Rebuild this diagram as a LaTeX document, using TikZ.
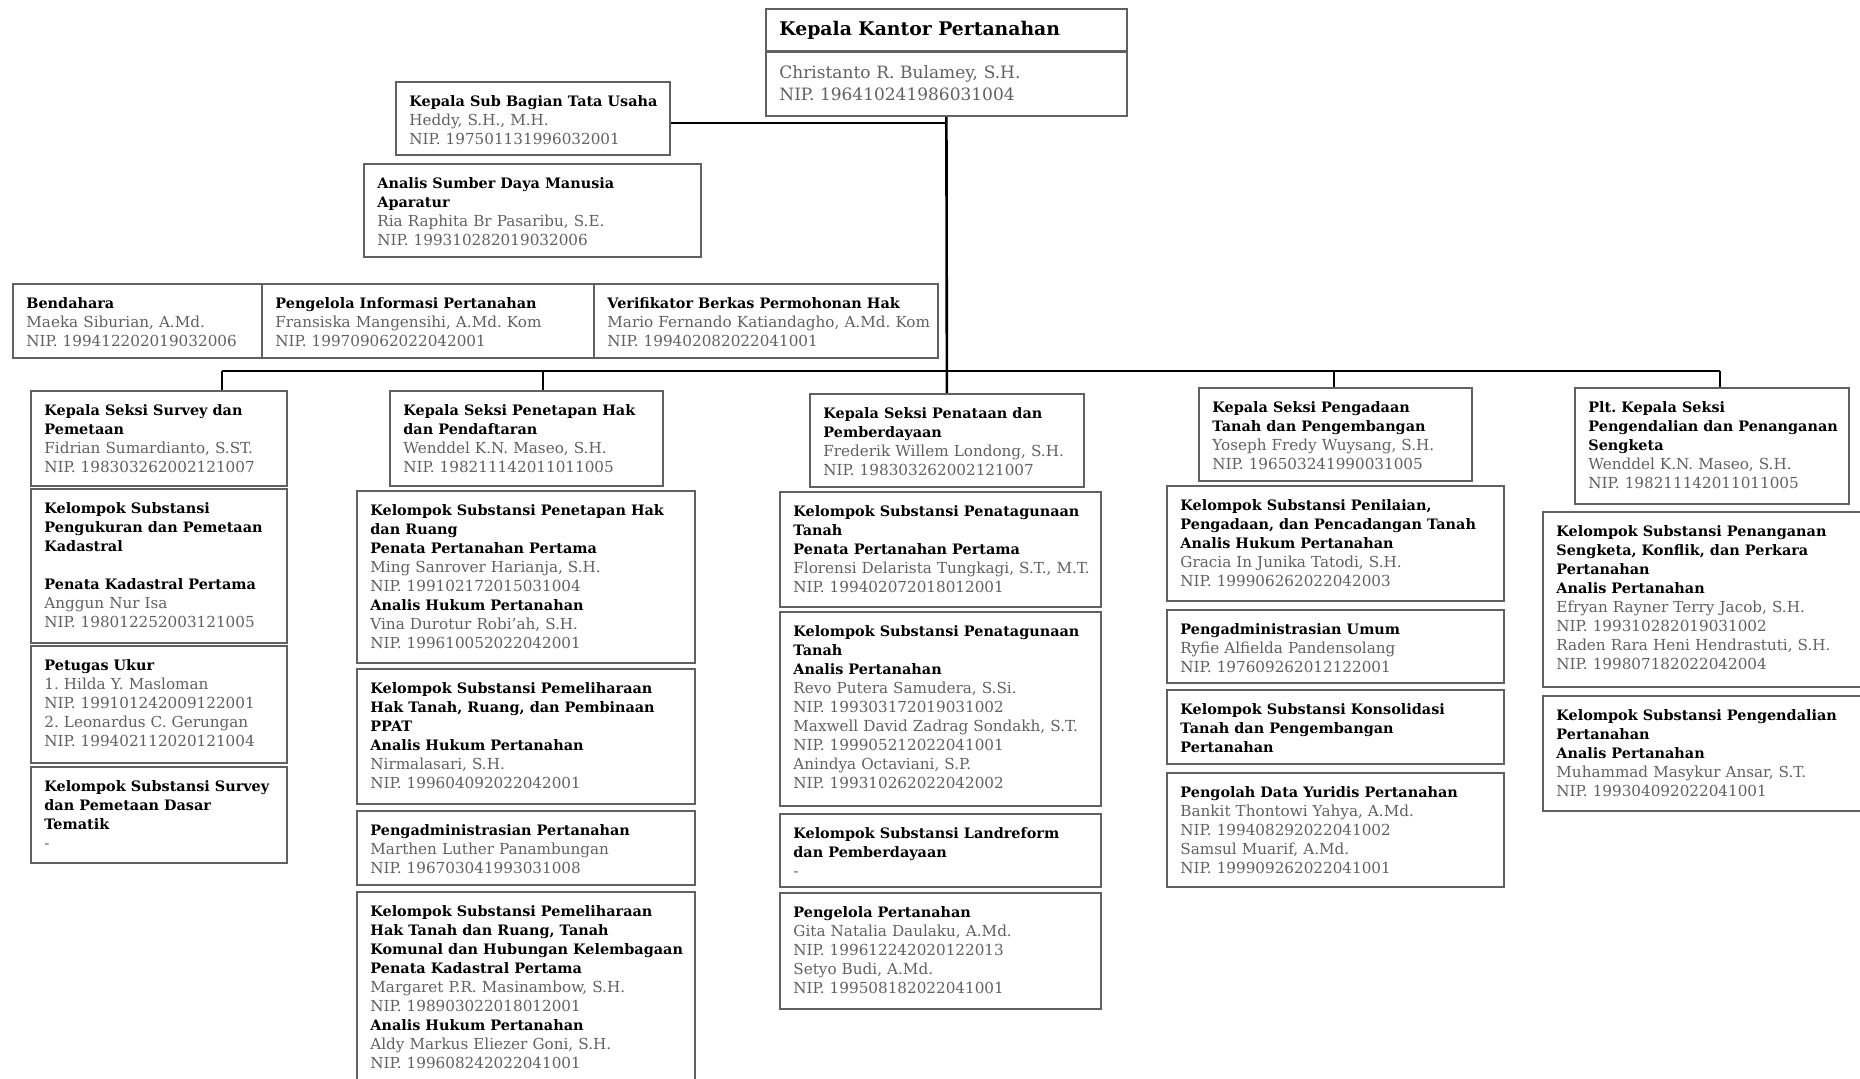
\documentclass[tikz,border=0pt]{standalone}
\usepackage{fontspec}
\setmainfont{DejaVu Serif}
\hyphenpenalty=10000
\exhyphenpenalty=10000
\frenchspacing
\newcommand{\hd}[1]{{\color{black}\fontsize{7.2}{9.5}\selectfont\bfseries #1}}
\tikzset{
  orgbox/.style={draw=black!62, line width=0.9pt, inner sep=0pt},
  orgtxt/.style={inner sep=0pt, align=left, text=black!62, font=\fontsize{7.6}{9.5}\selectfont\frenchspacing},
  conn/.style={draw=black, line width=1.3pt},
}
\newcommand{\bx}[6]{%
  \pgfmathsetmacro\bxw{(#4-#2)*0.5}%
  \pgfmathsetmacro\bxh{(#5-#3)*0.5}%
  \pgfmathsetmacro\bxt{(#4-#2)*0.5-8}%
  \node[orgbox, minimum width=\bxw pt, minimum height=\bxh pt, anchor=north west] (#1) at (#2,#3) {};
  \node[orgtxt, text width=\bxt pt, anchor=north west] (#1-t) at ([xshift=7pt,yshift=-7pt]#1.north west) {#6};
}
\begin{document}
\begin{tikzpicture}[x=0.5pt,y=-0.5pt]
\useasboundingbox (0,0) rectangle (1860,1079);
\clip (0,0) rectangle (1860,1079);
\fill[white] (0,0) rectangle (1860,1079);

% top
\node[orgbox, minimum width=180.5pt, minimum height=21pt, anchor=north west] (kk1) at (765,8) {};
\node[anchor=west, inner sep=0pt, font=\fontsize{9.4}{11}\selectfont\bfseries] (kk1-t) at ([xshift=7pt]kk1.west) {Kepala Kantor Pertanahan};
\node[orgbox, minimum width=180.5pt, minimum height=32pt, anchor=north west] (kk2) at (765,51) {};
\node[orgtxt, font=\fontsize{8.5}{11.3}\selectfont, text width=170pt, anchor=north west] (kk2-t) at ([xshift=7pt,yshift=-7pt]kk2.north west) {Christanto R. Bulamey, S.H.\\NIP. 196410241986031004};

\bx{sub}{395}{81}{669}{154}{\hd{Kepala Sub Bagian Tata Usaha}\\Heddy, S.H., M.H.\\NIP. 197501131996032001}
\bx{sdm}{363}{163}{700}{256}{\hd{Analis Sumber Daya Manusia\\Aparatur}\\Ria Raphita Br Pasaribu, S.E.\\NIP. 199310282019032006}

\bx{bend}{12}{283}{261}{357}{\hd{Bendahara}\\Maeka Siburian, A.Md.\\NIP. 199412202019032006}
\bx{pinfo}{261}{283}{593}{357}{\hd{Pengelola Informasi Pertanahan}\\Fransiska Mangensihi, A.Md. Kom\\NIP. 199709062022042001}
\bx{verif}{593}{283}{937}{357}{\hd{Verifikator Berkas Permohonan Hak}\\Mario Fernando Katiandagho, A.Md. Kom\\NIP. 199402082022041001}

% column 1
\bx{c1a}{30}{390}{286}{485}{\hd{Kepala Seksi Survey dan\\Pemetaan}\\Fidrian Sumardianto, S.ST.\\NIP. 198303262002121007}
\bx{c1b}{30}{488}{286}{642}{\hd{Kelompok Substansi\\Pengukuran dan Pemetaan\\Kadastral}\\[9.5pt]\hd{Penata Kadastral Pertama}\\Anggun Nur Isa\\NIP. 198012252003121005}
\bx{c1c}{30}{645}{286}{762}{\hd{Petugas Ukur}\\1. Hilda Y. Masloman\\NIP. 199101242009122001\\2. Leonardus C. Gerungan\\NIP. 199402112020121004}
\bx{c1d}{30}{766}{286}{862}{\hd{Kelompok Substansi Survey\\dan Pemetaan Dasar\\Tematik}\\-}

% column 2
\bx{c2a}{389}{390}{662}{485}{\hd{Kepala Seksi Penetapan Hak\\dan Pendaftaran}\\Wenddel K.N. Maseo, S.H.\\NIP. 198211142011011005}
\bx{c2b}{356}{490}{694}{662}{\hd{Kelompok Substansi Penetapan Hak\\dan Ruang\\Penata Pertanahan Pertama}\\Ming Sanrover Harianja, S.H.\\NIP. 199102172015031004\\\hd{Analis Hukum Pertanahan}\\Vina Durotur Robi'ah, S.H.\\NIP. 199610052022042001}
\bx{c2c}{356}{668}{694}{803}{\hd{Kelompok Substansi Pemeliharaan\\Hak Tanah, Ruang, dan Pembinaan\\PPAT\\Analis Hukum Pertanahan}\\Nirmalasari, S.H.\\NIP. 199604092022042001}
\bx{c2d}{356}{810}{694}{884}{\hd{Pengadministrasian Pertanahan}\\Marthen Luther Panambungan\\NIP. 196703041993031008}
\bx{c2e}{356}{891}{694}{1086}{\hd{Kelompok Substansi Pemeliharaan\\Hak Tanah dan Ruang, Tanah\\Komunal dan Hubungan Kelembagaan\\Penata Kadastral Pertama}\\Margaret P.R. Masinambow, S.H.\\NIP. 198903022018012001\\\hd{Analis Hukum Pertanahan}\\Aldy Markus Eliezer Goni, S.H.\\NIP. 199608242022041001}

% column 3
\bx{c3a}{809}{393}{1083}{486}{\hd{Kepala Seksi Penataan dan\\Pemberdayaan}\\Frederik Willem Londong, S.H.\\NIP. 198303262002121007}
\bx{c3b}{779}{491}{1100}{606}{\hd{Kelompok Substansi Penatagunaan\\Tanah\\Penata Pertanahan Pertama}\\Florensi Delarista Tungkagi, S.T., M.T.\\NIP. 199402072018012001}
\bx{c3c}{779}{611}{1100}{805}{\hd{Kelompok Substansi Penatagunaan\\Tanah\\Analis Pertanahan}\\Revo Putera Samudera, S.Si.\\NIP. 199303172019031002\\Maxwell David Zadrag Sondakh, S.T.\\NIP. 199905212022041001\\Anindya Octaviani, S.P.\\NIP. 199310262022042002}
\bx{c3d}{779}{813}{1100}{886}{\hd{Kelompok Substansi Landreform\\dan Pemberdayaan}\\-}
\bx{c3e}{779}{892}{1100}{1008}{\hd{Pengelola Pertanahan}\\Gita Natalia Daulaku, A.Md.\\NIP. 199612242020122013\\Setyo Budi, A.Md.\\NIP. 199508182022041001}

% column 4
\bx{c4a}{1198}{387}{1471}{480}{\hd{Kepala Seksi Pengadaan\\Tanah dan Pengembangan}\\Yoseph Fredy Wuysang, S.H.\\NIP. 196503241990031005}
\bx{c4b}{1166}{485}{1503}{600}{\hd{Kelompok Substansi Penilaian,\\Pengadaan, dan Pencadangan Tanah\\Analis Hukum Pertanahan}\\Gracia In Junika Tatodi, S.H.\\NIP. 199906262022042003}
\bx{c4c}{1166}{609}{1503}{682}{\hd{Pengadministrasian Umum}\\Ryfie Alfielda Pandensolang\\NIP. 197609262012122001}
\bx{c4d}{1166}{689}{1503}{763}{\hd{Kelompok Substansi Konsolidasi\\Tanah dan Pengembangan\\Pertanahan}}
\bx{c4e}{1166}{772}{1503}{886}{\hd{Pengolah Data Yuridis Pertanahan}\\Bankit Thontowi Yahya, A.Md.\\NIP. 199408292022041002\\Samsul Muarif, A.Md.\\NIP. 199909262022041001}

% column 5
\bx{c5a}{1574}{387}{1848}{503}{\hd{Plt. Kepala Seksi\\Pengendalian dan Penanganan\\Sengketa}\\Wenddel K.N. Maseo, S.H.\\NIP. 198211142011011005}
\bx{c5b}{1542}{511}{1868}{686}{\hd{Kelompok Substansi Penanganan\\Sengketa, Konflik, dan Perkara\\Pertanahan\\Analis Pertanahan}\\Efryan Rayner Terry Jacob, S.H.\\NIP. 199310282019031002\\Raden Rara Heni Hendrastuti, S.H.\\NIP. 199807182022042004}
\bx{c5c}{1542}{695}{1868}{810}{\hd{Kelompok Substansi Pengendalian\\Pertanahan\\Analis Pertanahan}\\Muhammad Masykur Ansar, S.T.\\NIP. 199304092022041001}

% connectors
\draw[conn] (kk2.south) -- (c3a.north);
\draw[conn] ([yshift=-2.25pt]sub.east) -- ([yshift=-2.25pt]sub.east -| kk2.south);
\coordinate (b1) at (222,371);
\coordinate (b2) at (543,371);
\coordinate (b4) at (1334,371);
\coordinate (b5) at (1720,371);
\draw[conn] (b1) -- (b5);
\draw[conn] (b1) -- (b1 |- c1a.north);
\draw[conn] (b2) -- (b2 |- c2a.north);
\draw[conn] (b4) -- (b4 |- c4a.north);
\draw[conn] (b5) -- (b5 |- c5a.north);
\end{tikzpicture}
\end{document}
